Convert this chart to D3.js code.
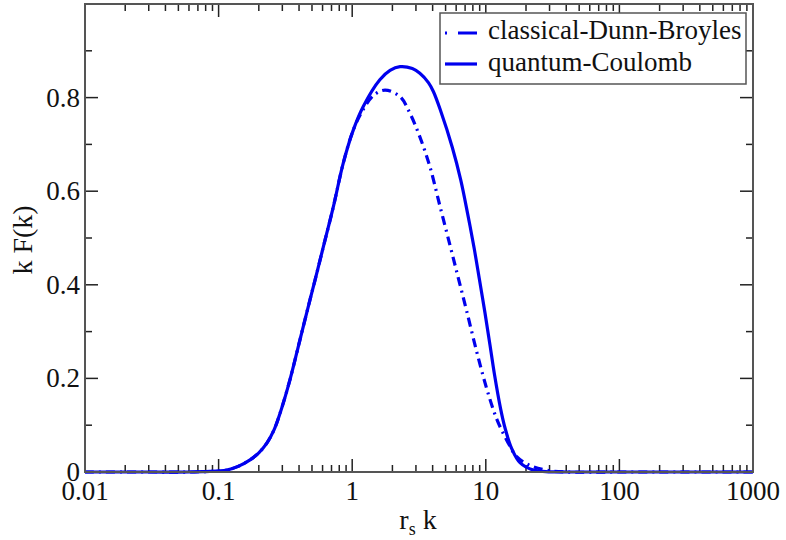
<!DOCTYPE html>
<html><head><meta charset="utf-8">
<script src="https://cdn.jsdelivr.net/npm/d3@7"></script>
<style>html,body{margin:0;padding:0;background:#fff}svg{display:block}</style>
</head><body><svg id="c" width="786" height="540"></svg>
<script>
// ---- data ----
const kQuantum = [0.01, 0.03, 0.06, 0.08, 0.1, 0.115, 0.14, 0.172, 0.2, 0.229, 0.26, 0.288, 0.342, 0.406, 0.483, 0.527, 0.608, 0.723, 0.857, 1.02, 1.21, 1.61, 1.92, 2.28, 2.82, 3.21, 3.72, 4.05, 4.59, 5.61, 6.49, 7.31, 8.17, 8.93, 9.86, 10.74, 11.59, 12.91, 13.93, 15.63, 18.03, 22.7, 28.2, 40, 100, 1000];
const fQuantum = [0, 0, 0, 0.001, 0.002, 0.004, 0.012, 0.026, 0.041, 0.061, 0.09, 0.125, 0.197, 0.282, 0.368, 0.41, 0.481, 0.567, 0.660, 0.731, 0.781, 0.838, 0.858, 0.866, 0.862, 0.852, 0.832, 0.813, 0.772, 0.694, 0.624, 0.552, 0.479, 0.414, 0.340, 0.272, 0.210, 0.135, 0.094, 0.050, 0.020, 0.004, 0.001, 0, 0, 0];
const kClassical = [0.01, 0.03, 0.06, 0.08, 0.1, 0.115, 0.14, 0.172, 0.2, 0.229, 0.26, 0.288, 0.342, 0.406, 0.483, 0.527, 0.608, 0.723, 0.857, 1.02, 1.21, 1.45, 1.76, 2.28, 2.71, 3.21, 3.82, 4.54, 5.40, 6.22, 7.19, 8.55, 10.16, 12.08, 14.35, 17.02, 21.43, 28.2, 40, 100, 1000];
const fClassical = [0, 0, 0, 0.001, 0.002, 0.004, 0.012, 0.026, 0.041, 0.061, 0.09, 0.125, 0.197, 0.282, 0.368, 0.41, 0.481, 0.567, 0.660, 0.731, 0.775, 0.805, 0.816, 0.802, 0.766, 0.716, 0.652, 0.568, 0.484, 0.415, 0.344, 0.257, 0.178, 0.113, 0.068, 0.033, 0.014, 0.004, 0, 0, 0];
const xMajorTicks = [0.01, 0.1, 1, 10, 100, 1000];
const xTickLabels = ["0.01", "0.1", "1", "10", "100", "1000"];
const yMajorTicks = [0, 0.2, 0.4, 0.6, 0.8];
const yTickLabels = ["0", "0.2", "0.4", "0.6", "0.8"];
const yMinorTicks = [0.1, 0.3, 0.5, 0.7, 0.9];
const seriesNames = ["classical-Dunn-Broyles", "quantum-Coulomb"];

// ---- layout ----
const L = 85, R = 753, T = 4, B = 472;
const svg = d3.select("#c");
const x = d3.scaleLog().domain([0.01, 1000]).range([L, R]);
const y = d3.scaleLinear().domain([0, 1]).range([B, T]);
const font = "'Liberation Serif','Times New Roman',serif";
const blue = "#0000ee";

// minor x ticks (2..9 per decade)
const xMinor = [];
for (let d = -2; d < 3; d++) for (let m = 2; m <= 9; m++) xMinor.push(m * Math.pow(10, d));

const tickG = svg.append("g").attr("stroke", "#222").attr("stroke-width", 1.5);
xMinor.forEach(v => {
  tickG.append("line").attr("x1", x(v)).attr("x2", x(v)).attr("y1", B).attr("y2", B - 7);
  tickG.append("line").attr("x1", x(v)).attr("x2", x(v)).attr("y1", T).attr("y2", T + 7);
});
xMajorTicks.forEach(v => {
  tickG.append("line").attr("x1", x(v)).attr("x2", x(v)).attr("y1", B).attr("y2", B - 13);
  tickG.append("line").attr("x1", x(v)).attr("x2", x(v)).attr("y1", T).attr("y2", T + 13);
});
yMinorTicks.forEach(v => {
  tickG.append("line").attr("x1", L).attr("x2", L + 7).attr("y1", y(v)).attr("y2", y(v));
  tickG.append("line").attr("x1", R).attr("x2", R - 7).attr("y1", y(v)).attr("y2", y(v));
});
yMajorTicks.forEach(v => {
  tickG.append("line").attr("x1", L).attr("x2", L + 13).attr("y1", y(v)).attr("y2", y(v));
  tickG.append("line").attr("x1", R).attr("x2", R - 13).attr("y1", y(v)).attr("y2", y(v));
});

// curves
const line = d3.line().x(d => x(d[0])).y(d => Math.min(B, y(d[1]))).curve(d3.curveCatmullRom.alpha(0.5));
const qData = kQuantum.map((k, i) => [k, fQuantum[i]]);
const cData = kClassical.map((k, i) => [k, fClassical[i]]);
svg.append("path").attr("d", line(qData)).attr("fill", "none").attr("stroke", blue).attr("stroke-width", 3.2);
svg.append("path").attr("d", line(cData)).attr("fill", "none").attr("stroke", blue).attr("stroke-width", 3.2).attr("stroke-dasharray", "9,5,2,5");

// frame
svg.append("rect").attr("x", L).attr("y", T).attr("width", R - L).attr("height", B - T)
  .attr("fill", "none").attr("stroke", "#555").attr("stroke-width", 2);

// tick labels
xMajorTicks.forEach((v, i) => {
  svg.append("text").attr("x", x(v)).attr("y", 500).attr("text-anchor", "middle")
    .attr("font-family", font).attr("font-size", 27).attr("fill", "#111").text(xTickLabels[i]);
});
yMajorTicks.forEach((v, i) => {
  svg.append("text").attr("x", 80).attr("y", y(v) + 9).attr("text-anchor", "end")
    .attr("font-family", font).attr("font-size", 27).attr("fill", "#111").text(yTickLabels[i]);
});

// axis titles
const xt = svg.append("text").attr("x", 418).attr("y", 529).attr("text-anchor", "middle")
  .attr("font-family", font).attr("font-size", 28).attr("fill", "#111");
xt.append("tspan").text("r");
xt.append("tspan").attr("font-size", 18).attr("dy", 6).text("s");
xt.append("tspan").attr("dy", -6).text(" k");

svg.append("text").attr("transform", "translate(32,240) rotate(-90)").attr("text-anchor", "middle")
  .attr("font-family", font).attr("font-size", 28).attr("fill", "#111").text("k F(k)");

// legend
const lg = svg.append("g");
lg.append("rect").attr("x", 440).attr("y", 13).attr("width", 306).attr("height", 71)
  .attr("fill", "#fff").attr("stroke", "#555").attr("stroke-width", 1.5);
lg.append("line").attr("x1", 445).attr("x2", 477).attr("y1", 33).attr("y2", 33)
  .attr("stroke", blue).attr("stroke-width", 3.2).attr("stroke-dasharray", "2,11,19,0");
lg.append("line").attr("x1", 445).attr("x2", 477).attr("y1", 64).attr("y2", 64)
  .attr("stroke", blue).attr("stroke-width", 3.2);
lg.append("text").attr("x", 488).attr("y", 39).attr("font-family", font).attr("font-size", 27).attr("fill", "#111").text(seriesNames[0]);
lg.append("text").attr("x", 488).attr("y", 71).attr("font-family", font).attr("font-size", 27).attr("fill", "#111").text(seriesNames[1]);
</script></body></html>
